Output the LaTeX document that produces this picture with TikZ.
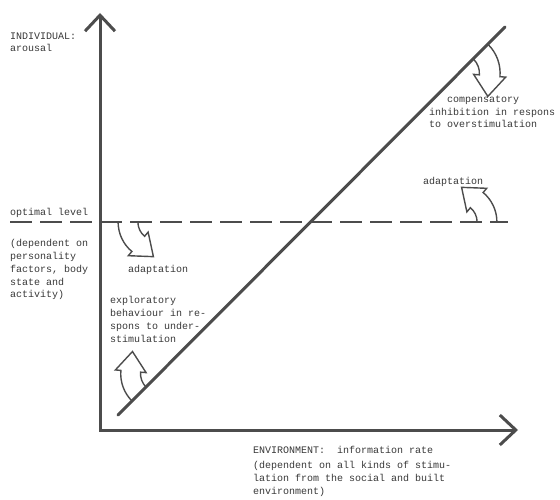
\documentclass[tikz,border=0pt]{standalone}
\usepackage{fontspec}
\setmonofont{Liberation Mono}
\usepackage{tikz}
\usetikzlibrary{arrows.meta}
\definecolor{inkgray}{rgb}{0.30,0.30,0.30}
\definecolor{textgray}{rgb}{0.22,0.22,0.22}
\tikzset{axis/.style = {line width=3pt, draw=inkgray, line cap=round, {Straight Barb[length=16pt,width=30pt,line width=3pt]}-{Straight Barb[length=16pt,width=30pt,line width=3pt]}}}
\tikzset{optline/.style = {line width=2.6pt, draw=inkgray, dash pattern=on 22pt off 8pt}}
\tikzset{hollowarrow/.style = {draw=inkgray, line width=1.4pt, line join=miter}}
\tikzset{bentarrow/.pic = {
    \draw[hollowarrow] (-9,0) arc[start angle=180, end angle=230, radius=35]
        -- (0.29,-30.64) -- (23.1,-31.5) -- (18.29,-9.19) -- (15.07,-13.02)
        arc[start angle=230, end angle=180, radius=17];
}}

\begin{document}
\begin{tikzpicture}[x=1pt, y=1pt]
    \useasboundingbox (0,0) rectangle (560,499);
    % axes and lines
    \coordinate (origin) at (100,69);
    \coordinate (ytip) at (100,486);
    \coordinate (xtip) at (518,69);
    \coordinate (diaglow) at (118,84);
    \coordinate (diaghigh) at (505,472);
    \coordinate (optleft) at (10,277);
    \coordinate (optright) at (508,277);
    \draw [axis] (ytip) -- (origin) -- (xtip);
    \draw [line width=3pt, draw=inkgray, line cap=round] (diaglow) -- (diaghigh);
    \draw [optline] (optleft) -- (optright);
    % curved arrows
    \pic [scale=1.1] at (128,277) {bentarrow};
    \pic [rotate=180, scale=1.1] at (487,277) {bentarrow};
    \pic [rotate=45, xscale=-1.15, yscale=1.15] at (481,447) {bentarrow};
    \pic [rotate=225, xscale=-1.1, yscale=1.1] at (139,105) {bentarrow};
    \begin{scope}[every node/.style={font=\ttfamily\fontsize{10}{12.7}\selectfont, text=textgray, align=left, inner sep=0pt, anchor=north west}]
        \node (arousal) at (10,466.5) {INDIVIDUAL:\\arousal};
        \node (compensatory) at (429,403.5) {\phantom{xxx}compensatory\\inhibition in respons\\to overstimulation};
        \node (adapthigh) at (423,321.5) {adaptation};
        \node (optimal) at (10,290.5) {optimal level};
        \node (personal) at (10,259.5) {(dependent on\\personality\\factors, body\\state and\\activity)};
        \node (adaptlow) at (128,233.5) {adaptation};
        \node (exploratory) at (110,202.5) {exploratory\\behaviour in re-\\spons to under-\\stimulation};
        \node (inforate) at (253,52.5) {ENVIRONMENT:~~information rate};
        \node (stimulation) at (253,37.5) {(dependent on all kinds of stimu-\\lation from the social and built\\environment)};
    \end{scope}
\end{tikzpicture}
\end{document}
